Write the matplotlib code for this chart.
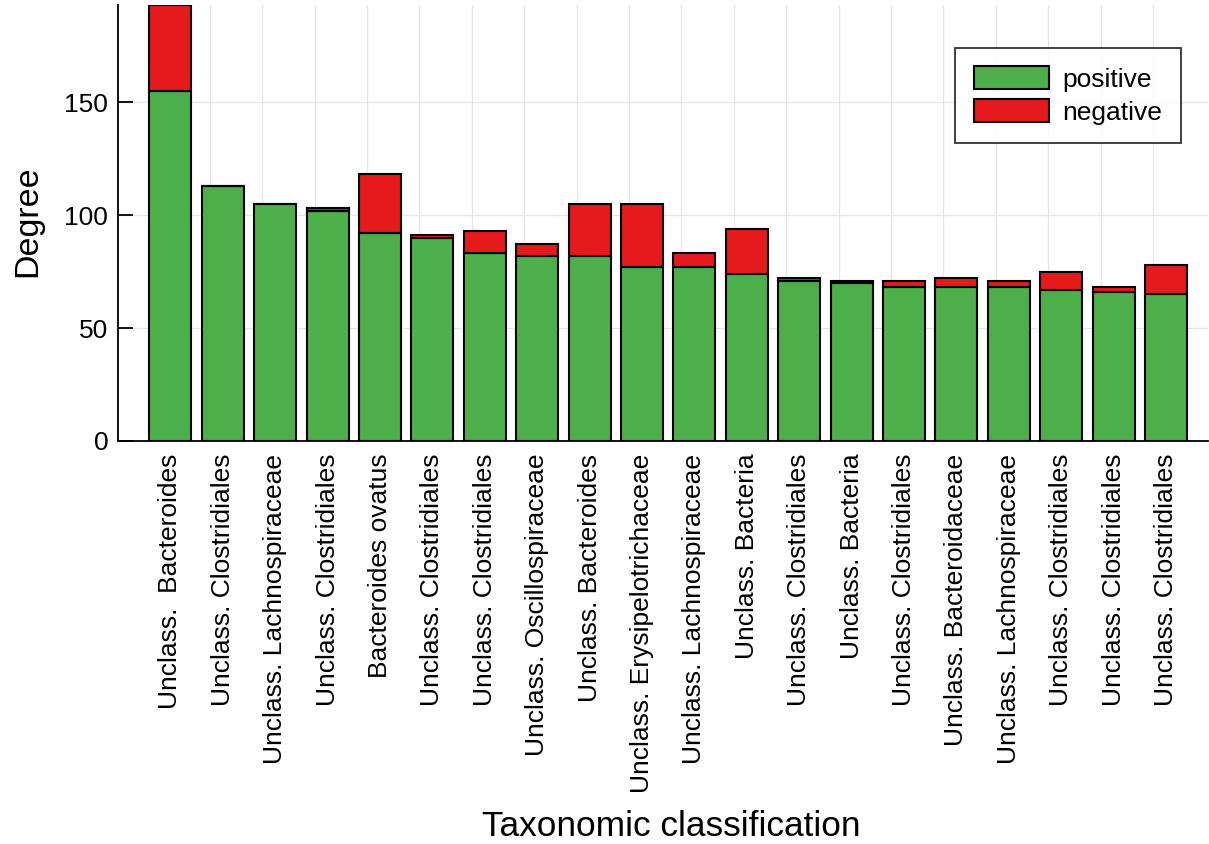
import matplotlib
matplotlib.use("Agg")
import matplotlib.pyplot as plt
import numpy as np

categories = [
    "Unclass.  Bacteroides", "Unclass. Clostridiales", "Unclass. Lachnospiraceae",
    "Unclass. Clostridiales", "Bacteroides ovatus", "Unclass. Clostridiales",
    "Unclass. Clostridiales", "Unclass. Oscillospiraceae", "Unclass. Bacteroides",
    "Unclass. Erysipelotrichaceae", "Unclass. Lachnospiraceae", "Unclass. Bacteria",
    "Unclass. Clostridiales", "Unclass. Bacteria", "Unclass. Clostridiales",
    "Unclass. Bacteroidaceae", "Unclass. Lachnospiraceae", "Unclass. Clostridiales",
    "Unclass. Clostridiales", "Unclass. Clostridiales",
]
positive = [155, 113, 105, 102, 92, 90, 83, 82, 82, 77, 77, 74, 71, 70, 68, 68, 68, 67, 66, 65]
negative = [38, 0, 0, 1, 26, 1, 10, 5, 23, 28, 6, 20, 1, 1, 3, 4, 3, 8, 2, 13]

plt.rcParams['font.family'] = ['Liberation Sans', 'DejaVu Sans']

fig = plt.figure(figsize=(12.09, 8.44), dpi=100)
ax = fig.add_axes([118/1209, 1-441/844, 1090/1209, 436/844])

x = np.arange(len(categories))
green = "#4daf4a"
red = "#e41a1c"
ax.bar(x, positive, width=0.8, color=green, edgecolor="black", linewidth=1.5,
       label="positive", zorder=3)
ax.bar(x, negative, width=0.8, bottom=positive, color=red, edgecolor="black",
       linewidth=1.5, label="negative", zorder=3)

ax.set_xlim(-1.0, 19.8)
ax.set_ylim(0, 193)

ax.set_yticks([0, 50, 100, 150])
ax.set_xticks(x)
ax.set_xticklabels(categories, rotation=90, va="top", ha="center")
ax.set_xticks(x - 0.25, minor=True)
ax.tick_params(axis="x", which="both", length=0, pad=9, labelsize=19)
ax.tick_params(axis="y", direction="in", length=11, width=1.3, pad=7, labelsize=19)

ax.grid(False)
ax.yaxis.grid(True, color="#e6e6e6", linewidth=1.0, zorder=0)
ax.xaxis.grid(True, which="minor", color="#e6e6e6", linewidth=1.0, zorder=0)

for s in ["top", "right"]:
    ax.spines[s].set_visible(False)
for s in ["left", "bottom"]:
    ax.spines[s].set_linewidth(1.3)
    ax.spines[s].set_color("black")

ax.set_ylabel("Degree", fontsize=24.5)
ax.set_xlabel("Taxonomic classification", fontsize=25.4)
ax.yaxis.set_label_coords((28-118)/1090, (441-221)/436)
ax.xaxis.set_label_coords((671-118)/1090, (441-826)/436)
ax.xaxis.label.set_va("center")
ax.yaxis.label.set_va("center")

leg = ax.legend(loc="upper right", bbox_to_anchor=((1181-118)/1090, (441-48)/436),
                fontsize=19, frameon=True, fancybox=False, edgecolor="black",
                handlelength=2.87, handleheight=0.95, borderpad=0.7,
                labelspacing=0.28, handletextpad=0.5, borderaxespad=0)
leg.get_frame().set_linewidth(1.3)

fig.savefig("out.png", dpi=100)
